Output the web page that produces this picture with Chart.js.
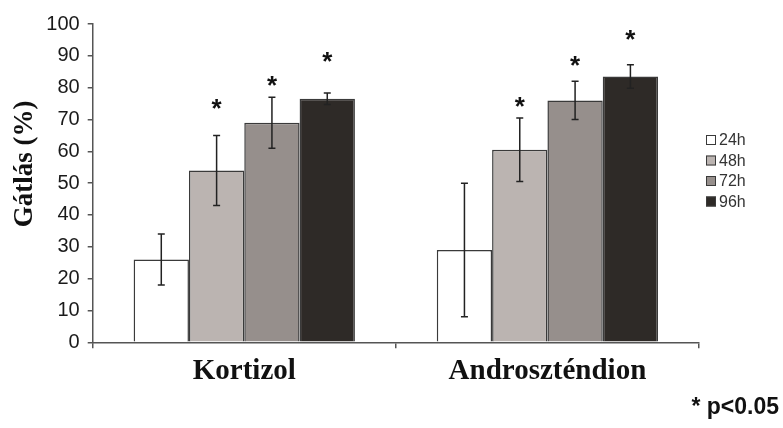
<!DOCTYPE html>
<html>
<head>
<meta charset="utf-8">
<script src="https://cdn.jsdelivr.net/npm/chart.js@4.4.1/dist/chart.umd.min.js"></script>
<style>
  html, body { margin: 0; padding: 0; background: #ffffff; }
  #wrap { position: relative; width: 783px; height: 428px; }
</style>
</head>
<body>
<div id="wrap"><canvas id="chart" width="783" height="428"></canvas></div>
<script>
// Inhibition (%) by treatment and incubation time
const categories = ['Kortizol', 'Androszténdion'];
const seriesNames = ['24h', '48h', '72h', '96h'];
const inhib24 = [26, 29];
const inhib48 = [54, 60.5];
const inhib72 = [69, 76];
const inhib96 = [76.5, 83.5];
// standard deviations (±)
const sd24 = [8, 21];
const sd48 = [11, 10];
const sd72 = [8, 6];
const sd96 = [1.8, 3.7];
// significance marks (level in % where the asterisk sits; null = none)
const star24 = [null, null];
const star48 = [75.2, 76.1];
const star72 = [82.7, 88.7];
const star96 = [90.0, 96.9];
const yTicks = [0, 10, 20, 30, 40, 50, 60, 70, 80, 90, 100];
const yTitle = 'Gátlás (%)';
const footNote = '* p<0.05';

const fills = ['#ffffff', '#bbb4b1', '#968f8c', '#2e2a27'];
const values = [inhib24, inhib48, inhib72, inhib96];
const errors = [sd24, sd48, sd72, sd96];
const stars = [star24, star48, star72, star96];

const datasets = seriesNames.map((name, i) => ({
  label: name,
  data: values[i],
  backgroundColor: fills[i],
  borderColor: '#3a3a3a',
  borderWidth: 1.5,
  borderSkipped: 'bottom',
  categoryPercentage: 0.73,
  barPercentage: 1.0
}));

const decorations = {
  id: 'decorations',
  afterDatasetsDraw(chart) {
    const ctx = chart.ctx;
    const y = chart.scales.y;
    ctx.save();
    // error bars
    ctx.strokeStyle = '#222222';
    ctx.lineWidth = 1.5;
    datasets.forEach((ds, i) => {
      const meta = chart.getDatasetMeta(i);
      meta.data.forEach((bar, j) => {
        const v = values[i][j], e = errors[i][j];
        const yt = y.getPixelForValue(v + e);
        const yb = y.getPixelForValue(v - e);
        const x = bar.x;
        ctx.beginPath();
        ctx.moveTo(x, yt); ctx.lineTo(x, yb);
        ctx.moveTo(x - 3.5, yt); ctx.lineTo(x + 3.5, yt);
        ctx.moveTo(x - 3.5, yb); ctx.lineTo(x + 3.5, yb);
        ctx.stroke();
      });
    });
    // asterisks
    ctx.fillStyle = '#111111';
    ctx.font = 'bold 26px "Liberation Sans", Arial, sans-serif';
    ctx.textAlign = 'center';
    ctx.textBaseline = 'alphabetic';
    datasets.forEach((ds, i) => {
      const meta = chart.getDatasetMeta(i);
      meta.data.forEach((bar, j) => {
        const s = stars[i][j];
        if (s === null) return;
        ctx.fillText('*', bar.x, y.getPixelForValue(s) + 14.5);
      });
    });
    ctx.restore();
  },
  afterDraw(chart) {
    const ctx = chart.ctx;
    ctx.save();
    // y-axis title
    ctx.fillStyle = '#111111';
    ctx.font = 'bold 27px "Liberation Serif", "Times New Roman", serif';
    ctx.textAlign = 'center';
    ctx.textBaseline = 'middle';
    ctx.translate(25, 164);
    ctx.rotate(-Math.PI / 2);
    ctx.fillText(yTitle, 0, 0);
    ctx.restore();

    // legend
    ctx.save();
    ctx.font = '16px "Liberation Sans", Arial, sans-serif';
    ctx.textBaseline = 'middle';
    ctx.textAlign = 'left';
    seriesNames.forEach((name, i) => {
      const cy = 140 + i * 20.5;
      ctx.fillStyle = fills[i];
      ctx.fillRect(706, cy - 5, 10, 10);
      ctx.strokeStyle = '#3a3a3a';
      ctx.lineWidth = 1;
      ctx.strokeRect(706.5, cy - 4.5, 9, 9);
      ctx.fillStyle = '#333333';
      ctx.fillText(name, 719, cy + 1);
    });
    ctx.restore();

    // footnote
    ctx.save();
    ctx.fillStyle = '#111111';
    ctx.font = 'bold 23px "Liberation Sans", Arial, sans-serif';
    ctx.textAlign = 'right';
    ctx.textBaseline = 'alphabetic';
    ctx.fillText(footNote, 779, 414);
    ctx.restore();
  }
};

new Chart(document.getElementById('chart'), {
  type: 'bar',
  data: { labels: categories, datasets },
  options: {
    responsive: false,
    animation: false,
    layout: { padding: { left: 0, right: 84, top: 24, bottom: 0 } },
    plugins: { legend: { display: false }, tooltip: { enabled: false } },
    scales: {
      x: {
        grid: { offset: true, drawOnChartArea: false, tickLength: 6, color: '#555555', lineWidth: 1.5 },
        border: { color: '#555555', width: 1.5 },
        ticks: {
          color: '#111111',
          padding: 6,
          font: { family: '"Liberation Serif", "Times New Roman", serif', size: 29, weight: 'bold' }
        },
        afterFit(scale) { scale.height = 428 - 342.3; }
      },
      y: {
        min: 0,
        max: 100,
        afterBuildTicks(scale) { scale.ticks = yTicks.map(v => ({ value: v })); },
        grid: { drawOnChartArea: false, tickLength: 5, color: '#555555', lineWidth: 1.5 },
        border: { color: '#555555', width: 1.5 },
        ticks: {
          color: '#1a1a1a',
          padding: 8,
          font: { family: '"Liberation Sans", Arial, sans-serif', size: 20 }
        },
        afterFit(scale) { scale.width = 92.7; }
      }
    }
  },
  plugins: [decorations]
});
</script>
</body>
</html>
